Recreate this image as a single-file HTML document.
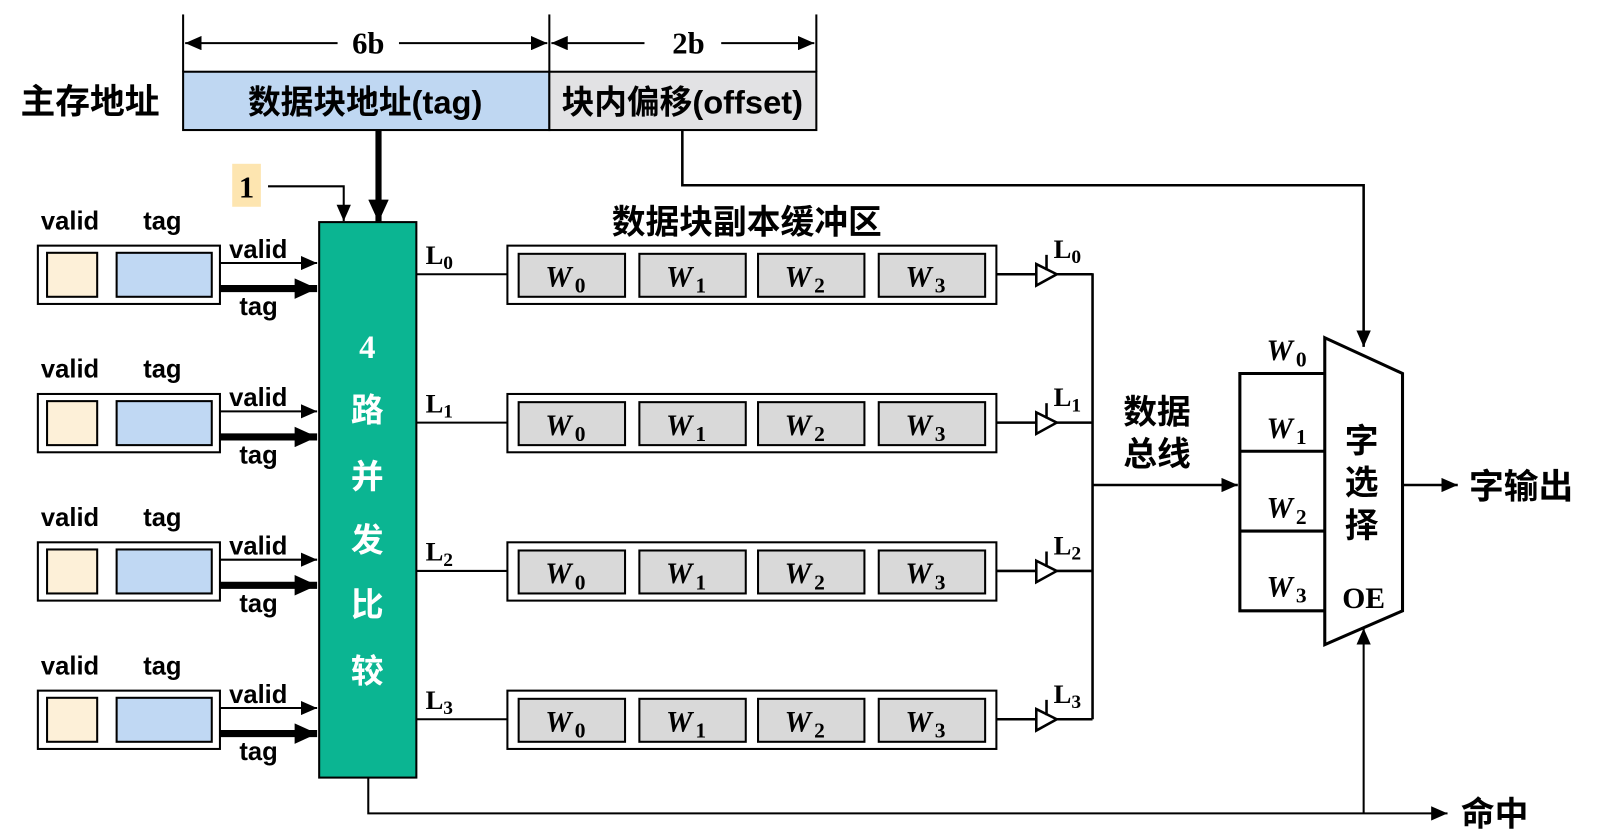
<!DOCTYPE html>
<html><head><meta charset="utf-8"><style>
html,body{margin:0;padding:0;background:#fff;}
svg{display:block}
.cn{font-family:"Liberation Sans","Noto Sans CJK SC",sans-serif;font-weight:bold;}
.en{font-family:"Liberation Sans",sans-serif;font-weight:bold;}
.sf{font-family:"Liberation Serif",serif;font-weight:bold;}
.w{font-family:"Liberation Serif",serif;font-weight:bold;font-style:italic;font-size:29px;}
.ws{font-family:"Liberation Serif",serif;font-weight:bold;font-size:21px;font-style:normal;}
</style></head><body>
<svg width="1602" height="835" viewBox="0 0 1566 816" xmlns="http://www.w3.org/2000/svg">
<defs>
<marker id="a2" markerWidth="16" markerHeight="14" refX="16" refY="7" orient="auto" markerUnits="userSpaceOnUse"><path d="M0,0 L16,7 L0,14 Z" fill="#000"/></marker>
<marker id="b" markerWidth="22" markerHeight="20" refX="22" refY="10" orient="auto" markerUnits="userSpaceOnUse"><path d="M0,0 L22,10 L0,20 Z" fill="#000"/></marker>
</defs>
<g stroke="#000" stroke-width="2">
<line x1="179" y1="14" x2="179" y2="70"/><line x1="537" y1="14" x2="537" y2="70"/><line x1="798" y1="14" x2="798" y2="70"/>
<line x1="330" y1="42" x2="181" y2="42" marker-end="url(#a2)"/><line x1="390" y1="42" x2="535" y2="42" marker-end="url(#a2)"/>
<line x1="630" y1="42" x2="539" y2="42" marker-end="url(#a2)"/><line x1="705" y1="42" x2="796" y2="42" marker-end="url(#a2)"/>
</g>
<text x="360" y="52" class="sf" font-size="30" text-anchor="middle">6b</text>
<text x="673" y="52" class="sf" font-size="30" text-anchor="middle">2b</text>
<rect x="179" y="70" width="358" height="57" fill="#bfd7f2" stroke="#000" stroke-width="2"/>
<rect x="537" y="70" width="261" height="57" fill="#e2e2e4" stroke="#000" stroke-width="2"/>
<text x="357" y="111" class="cn" font-size="32" text-anchor="middle">数据块地址(tag)</text>
<text x="667" y="111" class="cn" font-size="32" text-anchor="middle" textLength="236" lengthAdjust="spacingAndGlyphs">块内偏移(offset)</text>
<text x="20" y="111" class="cn" font-size="34">主存地址</text>
<line x1="370" y1="127" x2="370" y2="217" stroke="#000" stroke-width="6" marker-end="url(#b)"/>
<rect x="227" y="160" width="28" height="42" fill="#fde5b0"/>
<text x="241" y="193" class="sf" font-size="30" text-anchor="middle">1</text>
<polyline points="262,182 336,182 336,216" fill="none" stroke="#000" stroke-width="2" marker-end="url(#a2)"/>
<polyline points="667,127 667,181 1333,181 1333,339" fill="none" stroke="#000" stroke-width="2.5" marker-end="url(#a2)"/>
<rect x="312" y="217" width="95" height="543" fill="#0bb592" stroke="#000" stroke-width="2"/>
<g class="cn" font-size="32" fill="#fff" text-anchor="middle">
<text x="359" y="350" class="sf">4</text><text x="359" y="412">路</text><text x="359" y="477">并</text><text x="359" y="539">发</text><text x="359" y="602">比</text><text x="359" y="667">较</text>
</g>
<g id="row">
<text x="40" y="224" class="en" font-size="25">valid</text><text x="140" y="224" class="en" font-size="25">tag</text>
<rect x="37" y="240" width="178" height="57" fill="#fff" stroke="#000" stroke-width="2"/>
<rect x="46" y="247" width="49" height="43" fill="#fdf0d8" stroke="#000" stroke-width="2"/>
<rect x="114" y="247" width="93" height="43" fill="#c0d8f3" stroke="#000" stroke-width="2"/>
<line x1="215" y1="257" x2="310" y2="257" stroke="#000" stroke-width="2" marker-end="url(#a2)"/>
<line x1="215" y1="282" x2="310" y2="282" stroke="#000" stroke-width="7" marker-end="url(#b)"/>
<text x="224" y="252" class="en" font-size="25">valid</text><text x="234" y="308" class="en" font-size="25">tag</text>
<line x1="407" y1="268" x2="496" y2="268" stroke="#000" stroke-width="2"/>
<rect x="496" y="240" width="478" height="57" fill="#fff" stroke="#000" stroke-width="2"/>
<rect x="507" y="248" width="104" height="42" fill="#d9d9d9" stroke="#000" stroke-width="2"/>
<rect x="625" y="248" width="104" height="42" fill="#d9d9d9" stroke="#000" stroke-width="2"/>
<rect x="741" y="248" width="104" height="42" fill="#d9d9d9" stroke="#000" stroke-width="2"/>
<rect x="859" y="248" width="104" height="42" fill="#d9d9d9" stroke="#000" stroke-width="2"/>
<text x="533" y="280" class="w">W<tspan class="ws" dx="3" dy="6">0</tspan></text>
<text x="651" y="280" class="w">W<tspan class="ws" dx="3" dy="6">1</tspan></text>
<text x="767" y="280" class="w">W<tspan class="ws" dx="3" dy="6">2</tspan></text>
<text x="885" y="280" class="w">W<tspan class="ws" dx="3" dy="6">3</tspan></text>
<line x1="974" y1="268" x2="1013" y2="268" stroke="#000" stroke-width="2.5"/>
<path d="M1013,258 L1033,268 L1013,279 Z" fill="#fff" stroke="#000" stroke-width="2.5"/>
<line x1="1023" y1="249" x2="1023" y2="264" stroke="#000" stroke-width="2.5"/>
<line x1="1033" y1="268" x2="1068" y2="268" stroke="#000" stroke-width="2.5"/>
</g>
<use href="#row" y="145"/><use href="#row" y="290"/><use href="#row" y="435"/>
<g class="sf" font-size="26">
<text x="416" y="258">L<tspan font-size="19" dy="5">0</tspan></text>
<text x="416" y="403">L<tspan font-size="19" dy="5">1</tspan></text>
<text x="416" y="548">L<tspan font-size="19" dy="5">2</tspan></text>
<text x="416" y="693">L<tspan font-size="19" dy="5">3</tspan></text>
<text x="1030" y="252">L<tspan font-size="19" dy="5">0</tspan></text>
<text x="1030" y="397">L<tspan font-size="19" dy="5">1</tspan></text>
<text x="1030" y="542">L<tspan font-size="19" dy="5">2</tspan></text>
<text x="1030" y="687">L<tspan font-size="19" dy="5">3</tspan></text>
</g>
<text x="730" y="228" class="cn" font-size="33" text-anchor="middle">数据块副本缓冲区</text>
<line x1="1068" y1="267" x2="1068" y2="703" stroke="#000" stroke-width="2.5"/>
<line x1="1068" y1="474" x2="1210" y2="474" stroke="#000" stroke-width="2.5" marker-end="url(#a2)"/>
<text x="1098" y="414" class="cn" font-size="33">数据</text>
<text x="1098" y="455" class="cn" font-size="33">总线</text>
<g stroke="#000" stroke-width="3" fill="none">
<polyline points="1295,365 1212,365 1212,597 1295,597"/>
<line x1="1212" y1="441" x2="1295" y2="441"/><line x1="1212" y1="519" x2="1295" y2="519"/>
<path d="M1295,330 L1371,365 L1371,597 L1295,630 Z" fill="#fff"/>
</g>
<text x="1238" y="352" class="w">W<tspan class="ws" dx="3" dy="6">0</tspan></text>
<text x="1238" y="428" class="w">W<tspan class="ws" dx="3" dy="6">1</tspan></text>
<text x="1238" y="506" class="w">W<tspan class="ws" dx="3" dy="6">2</tspan></text>
<text x="1238" y="583" class="w">W<tspan class="ws" dx="3" dy="6">3</tspan></text>
<g class="cn" font-size="33" text-anchor="middle"><text x="1331" y="442">字</text><text x="1331" y="483">选</text><text x="1331" y="525">择</text></g>
<text x="1333" y="594" class="sf" font-size="29" text-anchor="middle">OE</text>
<line x1="1371" y1="474" x2="1425" y2="474" stroke="#000" stroke-width="2.5" marker-end="url(#a2)"/>
<text x="1436" y="487" class="cn" font-size="34">字输出</text>
<polyline points="360,760 360,795 1415,795" fill="none" stroke="#000" stroke-width="2" marker-end="url(#a2)"/>
<line x1="1333" y1="795" x2="1333" y2="614" stroke="#000" stroke-width="2" marker-end="url(#a2)"/>
<text x="1428" y="807" class="cn" font-size="33">命中</text>
</svg>
</body></html>
